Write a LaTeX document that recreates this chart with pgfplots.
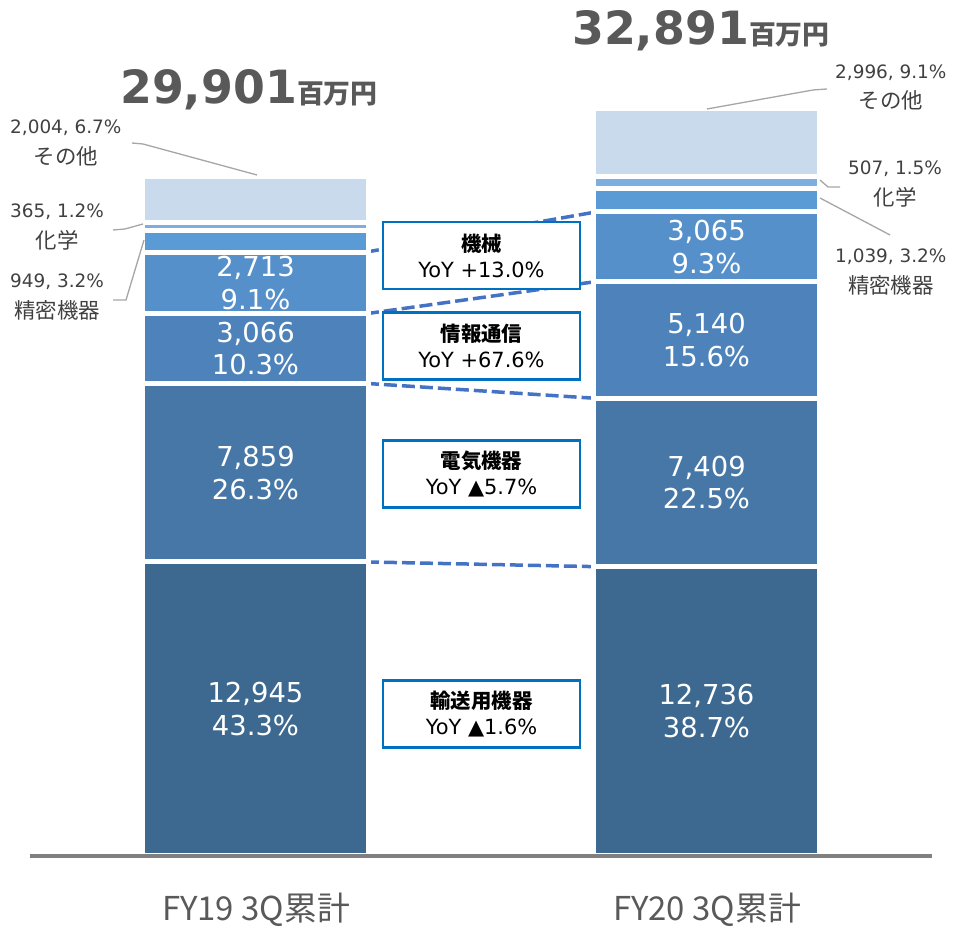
\documentclass[border=0pt]{standalone}
\usepackage{pgfplots}
\pgfplotsset{compat=1.18}
\usepackage{fontspec}
\setmainfont{DejaVu Sans}
\newfontfamily\jp{Noto Sans CJK JP}
\definecolor{c1}{HTML}{3D6990}
\definecolor{c2}{HTML}{4677A7}
\definecolor{c3}{HTML}{4D83BA}
\definecolor{c4}{HTML}{5590CB}
\definecolor{c5}{HTML}{5B9BD5}
\definecolor{c6}{HTML}{7DAEDF}
\definecolor{c7}{HTML}{C9DAEC}
\definecolor{boxblue}{HTML}{0070C0}
\definecolor{dashblue}{HTML}{4472C4}
\definecolor{axisgray}{HTML}{808080}
\definecolor{leadgray}{HTML}{A6A6A6}
\definecolor{txtgray}{HTML}{404040}
\definecolor{totgray}{HTML}{595959}

\tikzset{
  lbl/.style={text=white, align=center, font=\fontsize{27.5}{33}\selectfont},
  dl/.style={dashblue, line width=3.5bp, dash pattern=on 13bp off 5bp},
  cb/.style={draw=boxblue, line width=2.5bp, fill=white, minimum width=197bp, minimum height=67bp, align=center, inner sep=0, text=black, font=\fontsize{21}{26}\selectfont},
  ol/.style={anchor=west, inner sep=0, align=center, text=txtgray, font=\fontsize{18.5}{31}\selectfont},
  ll/.style={leadgray, line width=1.3bp},
}

\begin{document}
\begin{tikzpicture}
\path[use as bounding box] (0,0) rectangle (955bp,929bp);
\begin{axis}[
  at={(30bp,73bp)}, anchor=south west,
  scale only axis, width=902bp, height=836bp,
  xmin=-0.5, xmax=1.5, ymin=0, ymax=36800,
  hide axis, clip=false,
  ybar stacked, bar width=0.5,
  every axis plot/.append style={draw=white, line width=5bp},
]
% 輸送用機器, 電気機器, 情報通信, 機械, 精密機器, 化学, その他
\addplot[fill=c1] coordinates {(0,12945) (1,12736)};
\addplot[fill=c2] coordinates {(0,7859) (1,7409)};
\addplot[fill=c3] coordinates {(0,3066) (1,5140)};
\addplot[fill=c4] coordinates {(0,2713) (1,3065)};
\addplot[fill=c5] coordinates {(0,949) (1,1039)};
\addplot[fill=c6] coordinates {(0,365) (1,507)};
\addplot[fill=c7] coordinates {(0,2004) (1,2996)};

\coordinate (a1) at (axis cs:0,6472.5);
\coordinate (a2) at (axis cs:0,16874.5);
\coordinate (a3) at (axis cs:0,22337);
\coordinate (a4) at (axis cs:0,25226.5);
\coordinate (b1) at (axis cs:1,6368);
\coordinate (b2) at (axis cs:1,16440.5);
\coordinate (b3) at (axis cs:1,22715);
\coordinate (b4) at (axis cs:1,26817.5);

\draw[dl] (axis cs:0.245,26583) -- (axis cs:0.755,28350);
\draw[dl] (axis cs:0.245,23870) -- (axis cs:0.755,25285);
\draw[dl] (axis cs:0.245,20804) -- (axis cs:0.755,20145);
\draw[dl] (axis cs:0.245,12945) -- (axis cs:0.755,12736);
\end{axis}

\node[lbl] at (a1) {12,945\\43.3\%};
\node[lbl] at (a2) {7,859\\26.3\%};
\node[lbl] at (a3) {3,066\\10.3\%};
\node[lbl] at (a4) {2,713\\9.1\%};
\node[lbl] at (b1) {12,736\\38.7\%};
\node[lbl] at (b2) {7,409\\22.5\%};
\node[lbl] at (b3) {5,140\\15.6\%};
\node[lbl] at (b4) {3,065\\9.3\%};

\draw[axisgray, line width=3.5bp] (30bp,73bp) -- (932bp,73bp);

% category labels
\node[anchor=base, text=totgray, inner sep=0, font=\jp\fontsize{33}{33}\selectfont] at (256bp,9bp) {FY19 3Q累計};
\node[anchor=base, text=totgray, inner sep=0, font=\jp\fontsize{33}{33}\selectfont] at (707bp,9bp) {FY20 3Q累計};

% totals
\node[anchor=base west, inner sep=0, text=totgray] at (120bp,825bp)
  {\fontsize{46}{46}\selectfont\bfseries 29,901{\jp\fontsize{27}{27}\selectfont\bfseries 百万円}};
\node[anchor=base west, inner sep=0, text=totgray] at (572bp,884bp)
  {\fontsize{46}{46}\selectfont\bfseries 32,891{\jp\fontsize{27}{27}\selectfont\bfseries 百万円}};

% callout boxes
\node[cb] at (481.5bp,673.5bp) {{\jp\bfseries\fontsize{20.5}{26}\selectfont 機械}\\YoY +13.0\%};
\node[cb] at (481.5bp,583bp) {{\jp\bfseries\fontsize{20.5}{26}\selectfont 情報通信}\\YoY +67.6\%};
\node[cb] at (481.5bp,455bp) {{\jp\bfseries\fontsize{20.5}{26}\selectfont 電気機器}\\YoY ▲5.7\%};
\node[cb] at (481.5bp,215bp) {{\jp\bfseries\fontsize{20.5}{26}\selectfont 輸送用機器}\\YoY ▲1.6\%};

% outside labels
\node[ol] at (10bp,786bp) {2,004, 6.7\%\\{\jp\fontsize{21.5}{31}\selectfont その他}};
\node[ol] at (10bp,702bp) {365, 1.2\%\\{\jp\fontsize{21.5}{31}\selectfont 化学}};
\node[ol] at (10bp,632bp) {949, 3.2\%\\{\jp\fontsize{21.5}{31}\selectfont 精密機器}};
\node[ol] at (835bp,841.5bp) {2,996, 9.1\%\\{\jp\fontsize{21.5}{31}\selectfont その他}};
\node[ol] at (848bp,745bp) {507, 1.5\%\\{\jp\fontsize{21.5}{31}\selectfont 化学}};
\node[ol] at (835bp,657bp) {1,039, 3.2\%\\{\jp\fontsize{21.5}{31}\selectfont 精密機器}};

% leader lines
\draw[ll] (132bp,786bp) -- (143bp,785bp) -- (257bp,754bp);
\draw[ll] (113bp,699bp) -- (125bp,700bp) -- (143bp,705bp);
\draw[ll] (113bp,629bp) -- (126bp,629bp) -- (144bp,689bp);
\draw[ll] (827bp,840bp) -- (813bp,839bp) -- (707bp,820bp);
\draw[ll] (820bp,749bp) -- (828bp,742bp) -- (840bp,742bp);
\draw[ll] (820bp,731bp) -- (890bp,694bp);
\end{tikzpicture}
\end{document}
